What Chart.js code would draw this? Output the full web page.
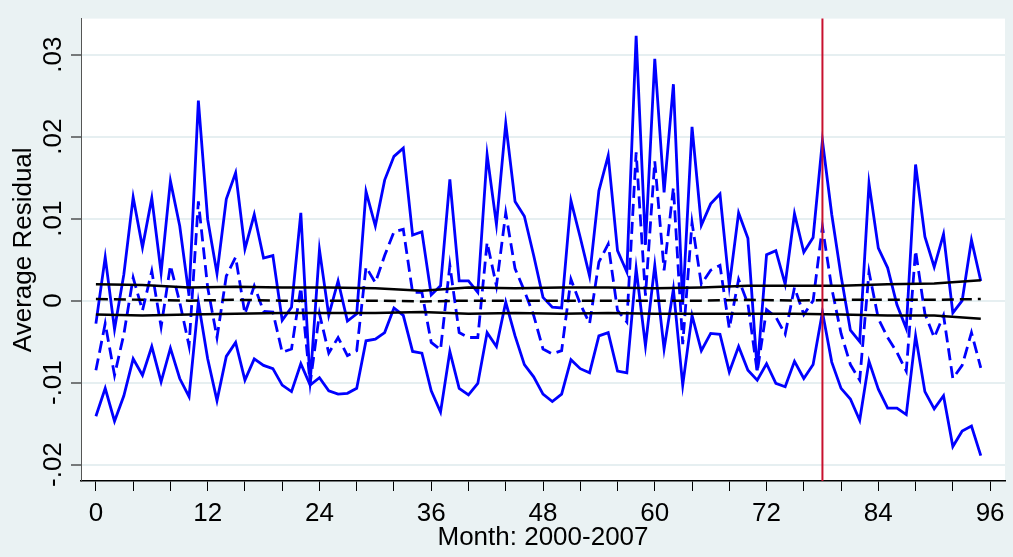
<!DOCTYPE html>
<html lang="en">
<head>
    <meta charset="UTF-8">
    <title>Average Residual</title>
    <script src="https://cdn.jsdelivr.net/npm/chart.js"></script>
    <style>
        html, body {
            margin: 0;
            padding: 0;
            background: #eaf2f3;
        }
        #wrap {
            width: 1013px;
            height: 557px;
        }
    </style>
</head>
<body>
    <div id="wrap"><canvas id="residChart" width="1013" height="557"></canvas></div>

    <script>
        // months 0..95 (Jan 2000 - Dec 2007)
        const months = Array.from({ length: 96 }, (_, i) => i);

        const upperResid = [
            -0.0028, 0.0053, -0.0035, 0.0032, 0.0126, 0.0065, 0.0125, 0.0034, 0.0146, 0.0091,
            0.0006, 0.0244, 0.0099, 0.0033, 0.0124, 0.0156, 0.0063, 0.0105, 0.0052, 0.0055,
            -0.0024, -0.0008, 0.0107, -0.0100, 0.0062, -0.0018, 0.0024, -0.0025, -0.0016, 0.0133,
            0.0091, 0.0147, 0.0176, 0.0186, 0.0080, 0.0084, 0.0007, 0.0018, 0.0148, 0.0024,
            0.0024, 0.0010, 0.0178, 0.0093, 0.0216, 0.0121, 0.0103, 0.0055, 0.0004, -0.0008,
            -0.0009, 0.0122, 0.0077, 0.0030, 0.0134, 0.0177, 0.0061, 0.0035, 0.0323, 0.0068,
            0.0295, 0.0132, 0.0264, -0.0005, 0.0212, 0.0092, 0.0118, 0.0130, 0.0018, 0.0107,
            0.0076, -0.0085, 0.0056, 0.0061, 0.0020, 0.0106, 0.0059, 0.0077, 0.0195, 0.0105,
            0.0030, -0.0036, -0.0050, 0.0143, 0.0064, 0.0040, -0.0005, -0.0034, 0.0166, 0.0078,
            0.0041, 0.0081, -0.0015, 0.0000, 0.0074, 0.0024
        ];

        const meanResid = [
            -0.0085, -0.0028, -0.0091, -0.0041, 0.0028, -0.0012, 0.0036, -0.0032, 0.0043, -0.0002,
            -0.0055, 0.0121, 0.0016, -0.0045, 0.0030, 0.0053, -0.0016, 0.0018, -0.0013, -0.0014,
            -0.0063, -0.0059, 0.0016, -0.0101, -0.0016, -0.0064, -0.0045, -0.0067, -0.0061, 0.0041,
            0.0022, 0.0055, 0.0084, 0.0087, 0.0010, 0.0010, -0.0051, -0.0060, 0.0043, -0.0039,
            -0.0045, -0.0045, 0.0071, 0.0018, 0.0107, 0.0039, 0.0012, -0.0018, -0.0059, -0.0065,
            -0.0061, 0.0026, -0.0004, -0.0028, 0.0047, 0.0069, -0.0012, -0.0026, 0.0181, 0.0006,
            0.0170, 0.0037, 0.0138, -0.0053, 0.0095, 0.0020, 0.0037, 0.0043, -0.0034, 0.0026,
            -0.0004, -0.0087, -0.0011, -0.0020, -0.0041, 0.0016, -0.0017, 0.0000, 0.0090, 0.0015,
            -0.0040, -0.0078, -0.0097, 0.0035, -0.0022, -0.0045, -0.0063, -0.0086, 0.0061, -0.0016,
            -0.0045, -0.0018, -0.0095, -0.0079, -0.0039, -0.0082
        ];

        const lowerResid = [
            -0.0141, -0.0107, -0.0147, -0.0116, -0.0071, -0.0091, -0.0056, -0.0099, -0.0058, -0.0095,
            -0.0117, -0.0002, -0.0071, -0.0122, -0.0068, -0.0051, -0.0097, -0.0071, -0.0079, -0.0083,
            -0.0103, -0.0111, -0.0077, -0.0103, -0.0094, -0.0110, -0.0114, -0.0113, -0.0107, -0.0049,
            -0.0047, -0.0039, -0.0009, -0.0018, -0.0062, -0.0064, -0.0110, -0.0136, -0.0062, -0.0107,
            -0.0115, -0.0101, -0.0039, -0.0056, -0.0002, -0.0043, -0.0078, -0.0093, -0.0114, -0.0123,
            -0.0114, -0.0072, -0.0083, -0.0088, -0.0043, -0.0039, -0.0086, -0.0088, 0.0039, -0.0055,
            0.0043, -0.0059, 0.0014, -0.0103, -0.0018, -0.0061, -0.0040, -0.0041, -0.0087, -0.0056,
            -0.0085, -0.0097, -0.0077, -0.0101, -0.0105, -0.0074, -0.0095, -0.0078, -0.0014, -0.0075,
            -0.0107, -0.0120, -0.0146, -0.0074, -0.0108, -0.0131, -0.0131, -0.0139, -0.0043, -0.0111,
            -0.0132, -0.0116, -0.0178, -0.0159, -0.0153, -0.0189
        ];

        // black reference band, read every 5 months
        const bandMonths = [0, 5, 10, 15, 20, 25, 30, 35, 40, 45, 50, 55, 60, 65, 70, 75, 80, 85, 90, 95];
        const bandUpper = [0.0020, 0.0019, 0.0016, 0.0017, 0.0016, 0.0016, 0.0015, 0.0012, 0.0016, 0.0015,
                           0.0016, 0.0016, 0.0015, 0.0016, 0.0018, 0.0018, 0.0018, 0.0020, 0.0021, 0.0025];
        const bandMean = [0.0002, 0.0001, 0.0000, 0.0001, 0.0000, 0.0000, 0.0000, -0.0001, 0.0000, 0.0000,
                          0.0000, 0.0000, 0.0000, 0.0000, 0.0001, 0.0000, 0.0001, 0.0001, 0.0001, 0.0002];
        const bandLower = [-0.0017, -0.0018, -0.0017, -0.0016, -0.0015, -0.0015, -0.0015, -0.0014, -0.0016, -0.0015,
                           -0.0016, -0.0015, -0.0016, -0.0016, -0.0016, -0.0016, -0.0017, -0.0018, -0.0018, -0.0022];

        const eventMonth = 78;

        const xTickValues = [0, 4, 8, 12, 16, 20, 24, 28, 32, 36, 40, 44, 48, 52, 56, 60, 64, 68, 72, 76, 80, 84, 88, 92, 96];
        const yTickValues = [-0.02, -0.01, 0, 0.01, 0.02, 0.03];
        const yTickLabels = ['-.02', '-.01', '0', '.01', '.02', '.03'];

        const FONT = '"Liberation Sans", Arial, sans-serif';

        const pts = (xs, ys) => xs.map((x, i) => ({ x: x, y: ys[i] }));

        const bgPlugin = {
            id: 'bg',
            beforeDraw(chart) {
                const { ctx, chartArea: a } = chart;
                ctx.save();
                ctx.fillStyle = '#eaf2f3';
                ctx.fillRect(0, 0, chart.width, chart.height);
                ctx.fillStyle = '#ffffff';
                ctx.fillRect(a.left, a.top, a.right - a.left, a.bottom - a.top);
                ctx.restore();
            }
        };

        const overlayPlugin = {
            id: 'overlay',
            afterDatasetsDraw(chart) {
                const { ctx, chartArea: a } = chart;
                const x = chart.scales.x.getPixelForValue(eventMonth);
                ctx.save();
                ctx.strokeStyle = '#c8102e';
                ctx.lineWidth = 2;
                ctx.beginPath();
                ctx.moveTo(x, a.top);
                ctx.lineTo(x, a.bottom);
                ctx.stroke();
                ctx.restore();
            },
            afterDraw(chart) {
                // rotated y tick labels, Stata style
                const { ctx } = chart;
                const ys = chart.scales.y;
                ctx.save();
                ctx.fillStyle = '#000';
                ctx.font = '26px ' + FONT;
                ctx.textAlign = 'center';
                ctx.textBaseline = 'alphabetic';
                yTickValues.forEach((v, i) => {
                    const y = ys.getPixelForValue(v);
                    ctx.save();
                    ctx.translate(61, y);
                    ctx.rotate(-Math.PI / 2);
                    ctx.fillText(yTickLabels[i], 0, 0);
                    ctx.restore();
                });
                ctx.restore();
            }
        };

        const ctx = document.getElementById('residChart').getContext('2d');
        const residChart = new Chart(ctx, {
            type: 'line',
            data: {
                datasets: [
                    {
                        data: pts(bandMonths, bandUpper),
                        borderColor: '#000', borderWidth: 2.5, pointRadius: 0, fill: false
                    },
                    {
                        data: pts(bandMonths, bandMean),
                        borderColor: '#000', borderWidth: 2.5, borderDash: [12, 6], pointRadius: 0, fill: false
                    },
                    {
                        data: pts(bandMonths, bandLower),
                        borderColor: '#000', borderWidth: 2.5, pointRadius: 0, fill: false
                    },
                    {
                        data: pts(months, upperResid),
                        borderColor: '#0000ff', borderWidth: 2.8, pointRadius: 0, fill: false
                    },
                    {
                        data: pts(months, meanResid),
                        borderColor: '#0000ff', borderWidth: 2.8, borderDash: [12, 6], pointRadius: 0, fill: false
                    },
                    {
                        data: pts(months, lowerResid),
                        borderColor: '#0000ff', borderWidth: 2.8, pointRadius: 0, fill: false
                    }
                ]
            },
            options: {
                responsive: false,
                animation: false,
                layout: { padding: { top: 4, right: 8, left: 0, bottom: 0 } },
                plugins: {
                    legend: { display: false },
                    tooltip: { enabled: false }
                },
                elements: { line: { tension: 0 } },
                scales: {
                    x: {
                        type: 'linear',
                        min: -1.6,
                        max: 97.6,
                        afterBuildTicks(s) { s.ticks = xTickValues.map(v => ({ value: v })); },
                        afterFit(s) { s.height = 76; },
                        ticks: {
                            autoSkip: false,
                            maxRotation: 0,
                            padding: 7,
                            color: '#000',
                            font: { family: FONT, size: 26 },
                            callback: v => (v % 12 === 0 ? String(v) : '')
                        },
                        grid: {
                            drawOnChartArea: false,
                            drawTicks: true,
                            tickLength: 10,
                            tickColor: '#000',
                            tickWidth: 1
                        },
                        border: { color: '#000', width: 1.5 },
                        title: {
                            display: true,
                            text: 'Month: 2000-2007',
                            color: '#000',
                            font: { family: FONT, size: 26, lineHeight: 1 },
                            padding: { top: 0, bottom: 6 }
                        }
                    },
                    y: {
                        min: -0.0220,
                        max: 0.0344,
                        afterBuildTicks(s) { s.ticks = yTickValues.map(v => ({ value: v })); },
                        afterFit(s) { s.width = 81; },
                        ticks: {
                            color: 'rgba(0,0,0,0)',
                            font: { family: FONT, size: 26 },
                            callback: () => ''
                        },
                        grid: {
                            color: '#e6eff1',
                            lineWidth: 2,
                            drawTicks: true,
                            tickLength: 10,
                            tickColor: '#000',
                            tickWidth: 1
                        },
                        border: { color: '#555', width: 1 },
                        title: {
                            display: true,
                            text: 'Average Residual',
                            color: '#000',
                            font: { family: FONT, size: 26, lineHeight: 1 },
                            padding: { top: 11, bottom: 0 }
                        }
                    }
                }
            },
            plugins: [bgPlugin, overlayPlugin]
        });
    </script>
</body>
</html>
